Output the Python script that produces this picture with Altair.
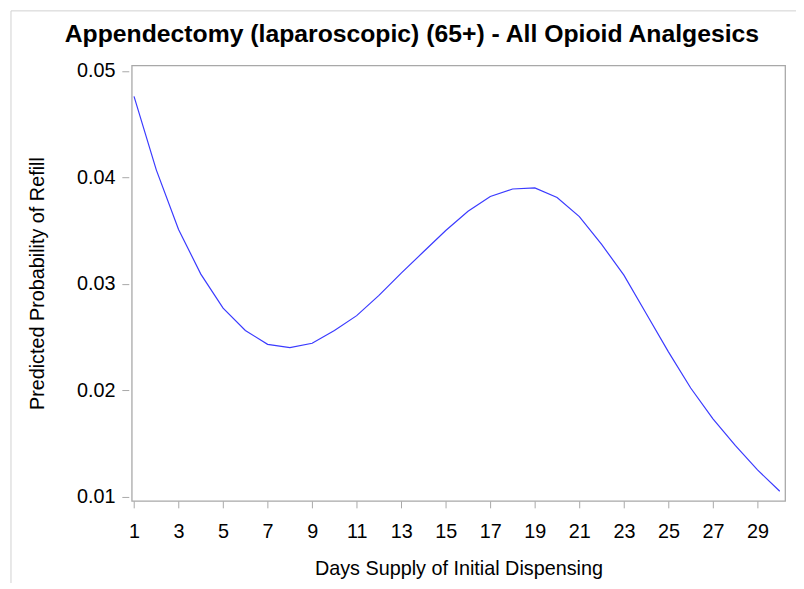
import altair as alt
import pandas as pd

days = list(range(1, 31))
prob = [0.0476, 0.0407, 0.0351, 0.0309, 0.0277, 0.0256, 0.0243, 0.0240, 0.0244, 0.0256,
        0.0270, 0.0289, 0.0310, 0.0330, 0.0350, 0.0368, 0.0382, 0.0389, 0.0390, 0.0381,
        0.0363, 0.0337, 0.0308, 0.0272, 0.0236, 0.0202, 0.0173, 0.0148, 0.0125, 0.0105]
x_ticks = list(range(1, 30, 2))
y_ticks = [0.01, 0.02, 0.03, 0.04, 0.05]

df = pd.DataFrame({"days": days, "prob": prob})
FONT = "Liberation Sans"
GRAY = "#a8a8a8"

line = alt.Chart(df).mark_line(color="#3a3aff", strokeWidth=1.2).encode(
    x=alt.X("days:Q",
            scale=alt.Scale(domain=[0.898, 30.24], nice=False, zero=False),
            axis=alt.Axis(values=x_ticks, title="Days Supply of Initial Dispensing",
                          grid=False, domain=False, tickColor=GRAY, tickSize=7,
                          labelPadding=14, titlePadding=17, labelFlush=False)),
    y=alt.Y("prob:Q",
            scale=alt.Scale(domain=[0.00959, 0.05052], nice=False, zero=False),
            axis=alt.Axis(values=y_ticks, format=".2f", title="Predicted Probability of Refill",
                          grid=False, domain=False, tickColor=GRAY, tickSize=7, offset=3,
                          labelPadding=7, titlePadding=29, labelFlush=False)),
)

border = alt.Chart(pd.DataFrame({"k": [0]})).mark_rule(color="#d0d0d0", strokeWidth=1).encode(
    x=alt.value(-122), y=alt.value(-55), y2=alt.value(540)
)
border_top = alt.Chart(pd.DataFrame({"k": [0]})).mark_rule(color="#d0d0d0", strokeWidth=1).encode(
    x=alt.value(-122), x2=alt.value(680), y=alt.value(-55)
)

chart = alt.layer(border, border_top, line).properties(
    width=660, height=440,
    autosize=alt.AutoSizeParams(type="none"),
    padding={"left": 125, "top": 55, "right": 11, "bottom": 80},
    title=alt.TitleParams("Appendectomy (laparoscopic) (65+) - All Opioid Analgesics",
                          font=FONT, fontSize=25, fontWeight="bold", color="black",
                          anchor="middle", dx=-47, offset=-57, baseline="alphabetic"),
).configure_view(stroke=GRAY, strokeWidth=1.3).configure_axis(
    labelFont=FONT, titleFont=FONT, labelFontSize=20, titleFontSize=20,
    labelColor="black", titleColor="black", titleFontWeight="normal"
)

chart.save("out.html", embed_options={"renderer": "svg", "actions": False})
